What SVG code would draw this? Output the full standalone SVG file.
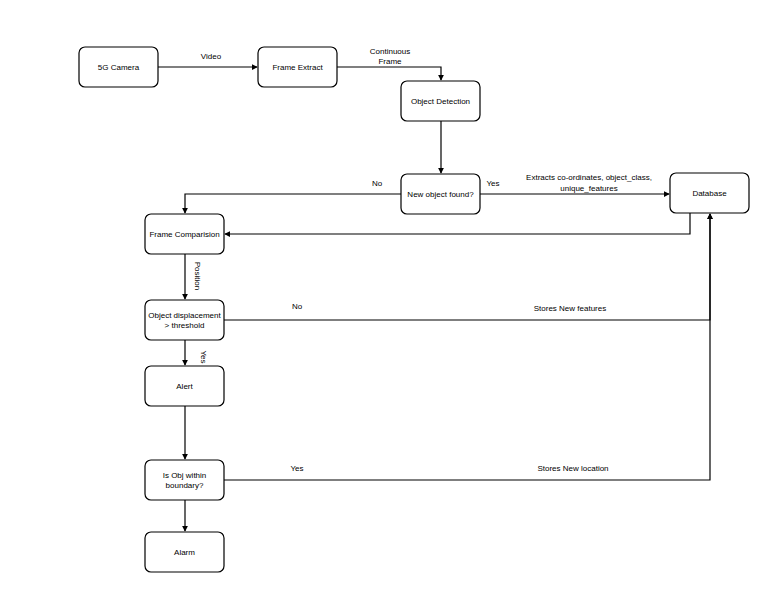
<svg xmlns="http://www.w3.org/2000/svg" width="768" height="594" viewBox="0 0 768 594">
<style>
.n rect{fill:#fff;stroke:#000;stroke-width:1.2}
text{font-family:"Liberation Sans",Arial,sans-serif;font-size:8px;fill:#000}
.n text{text-anchor:middle}
.c path{fill:none;stroke:#000;stroke-width:1.2;marker-end:url(#a)}
</style>
<defs><marker id="a" viewBox="0 0 8 8" refX="7" refY="4" markerWidth="6" markerHeight="6" orient="auto" markerUnits="userSpaceOnUse"><path d="M0,0L8,4L0,8z" fill="#000"/></marker></defs>
<rect width="768" height="594" fill="#fff"/>
<g class="c">
<path d="M158,67H257"/>
<path d="M337,67H441V80"/>
<path d="M441,121V173"/>
<path d="M480,194H669"/>
<path d="M401,194H185V213"/>
<path d="M690,213V234H225"/>
<path d="M185,254V299"/>
<path d="M224,320H710V214"/>
<path d="M185,340V365"/>
<path d="M185,406V459"/>
<path d="M224,480H710V214"/>
<path d="M185,500V531"/>
</g>
<g>
<text x="211" y="59" text-anchor="middle">Video</text>
<text x="390" y="54" text-anchor="middle">Continuous</text>
<text x="390" y="64" text-anchor="middle">Frame</text>
<text x="377" y="186" text-anchor="middle">No</text>
<text x="493" y="186" text-anchor="middle">Yes</text>
<text x="589" y="180" text-anchor="middle">Extracts co-ordinates, object_class,</text>
<text x="589" y="191" text-anchor="middle">unique_features</text>
<text transform="translate(195,276) rotate(90)" text-anchor="middle">Position</text>
<text x="297" y="309" text-anchor="middle">No</text>
<text x="570" y="311" text-anchor="middle">Stores New features</text>
<text transform="translate(201,357) rotate(90)" text-anchor="middle">Yes</text>
<text x="297" y="471" text-anchor="middle">Yes</text>
<text x="573" y="471" text-anchor="middle">Stores New location</text>
</g>
<g class="n" id="camera"><rect x="79" y="47" width="79" height="40" rx="6"/><text x="118.5" y="70">5G Camera</text></g>
<g class="n" id="frameExtract"><rect x="258" y="47" width="79" height="40" rx="6"/><text x="297.5" y="70">Frame Extract</text></g>
<g class="n" id="objDetect"><rect x="401" y="81" width="79" height="40" rx="6"/><text x="440.5" y="104">Object Detection</text></g>
<g class="n" id="newObj"><rect x="401" y="174" width="79" height="40" rx="6"/><text x="440.5" y="197">New object found?</text></g>
<g class="n" id="database"><rect x="670" y="173" width="79" height="40" rx="6"/><text x="709.5" y="196">Database</text></g>
<g class="n" id="frameComp"><rect x="145" y="214" width="79" height="40" rx="6"/><text x="184.5" y="237">Frame Comparision</text></g>
<g class="n" id="displacement"><rect x="145" y="300" width="79" height="40" rx="6"/><text x="184.5" y="318">Object displacement</text><text x="184.5" y="328">&gt; threshold</text></g>
<g class="n" id="alert"><rect x="145" y="366" width="79" height="40" rx="6"/><text x="184.5" y="389">Alert</text></g>
<g class="n" id="boundary"><rect x="145" y="460" width="79" height="40" rx="6"/><text x="184.5" y="478">Is Obj within</text><text x="184.5" y="488">boundary?</text></g>
<g class="n" id="alarm"><rect x="145" y="532" width="79" height="40" rx="6"/><text x="184.5" y="555">Alarm</text></g>
</svg>
